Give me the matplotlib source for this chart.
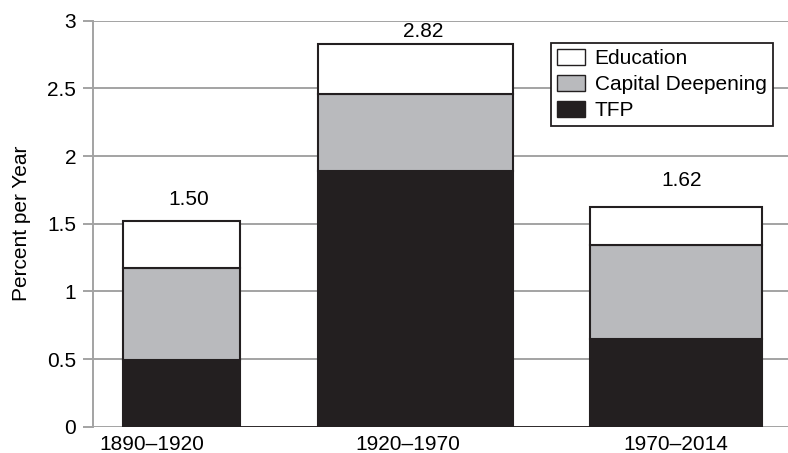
import matplotlib.pyplot as plt
from matplotlib.patches import Patch
from matplotlib.transforms import ScaledTranslation

plt.rcParams['font.family'] = ['Liberation Sans', 'DejaVu Sans']

# data
periods = ['1890–1920', '1920–1970', '1970–2014']
years = [30, 50, 44]            # bar widths follow period length
tfp = [0.49, 1.89, 0.65]
capital = [0.68, 0.57, 0.69]
education = [0.35, 0.37, 0.28]
totals = ['1.50', '2.82', '1.62']
yticks = [0, 0.5, 1, 1.5, 2, 2.5, 3]

black = '#231f20'
gray = '#b9babd'
gridc = '#a3a3a3'
fs = 15

# bar positions: 20-year gap between periods
gap = 20
lefts = []
x = 0
for w in years:
    lefts.append(x)
    x += w + gap
centers = [l + w / 2 for l, w in zip(lefts, years)]

fig = plt.figure(figsize=(7.88, 4.53), dpi=100)
ax = fig.add_axes([93 / 788, (453 - 426.7) / 453, 695 / 788, 406 / 453])

ax.set_ylim(0, 3)
ax.set_xlim(-7.7, 170.7)
ax.set_yticks(yticks)
ax.set_yticklabels(['%g' % t for t in yticks])
ax.yaxis.grid(True, color=gridc, lw=1.4)
ax.set_axisbelow(True)

for s in ['top', 'right', 'bottom']:
    ax.spines[s].set_visible(False)
ax.spines['left'].set_color(gridc)
ax.spines['left'].set_linewidth(1.4)

bottom2 = [a + b for a, b in zip(tfp, capital)]
ax.bar(lefts, tfp, width=years, align='edge', color=black, edgecolor=black, lw=1.5, zorder=3)
ax.bar(lefts, capital, width=years, bottom=tfp, align='edge', color=gray, edgecolor=black, lw=1.5, zorder=3)
ax.bar(lefts, education, width=years, bottom=bottom2, align='edge', color='white', edgecolor=black, lw=1.5, zorder=3)
ax.hlines(0, lefts[0], lefts[-1] + years[-1], color=black, lw=2, zorder=4)

# total labels above bars
label_y = [1.68, 2.92, 1.82]
label_dx = [2, 2, 1.5]
for c, t, yy, dx in zip(centers, totals, label_y, label_dx):
    ax.text(c + dx, yy, t, ha='center', va='center', fontsize=fs)

ax.set_xticks(centers)
ax.set_xticklabels(periods, fontsize=fs)
ax.tick_params(axis='x', length=0, pad=6)
ax.tick_params(axis='y', length=7, width=1.4, color=gridc, labelsize=fs, pad=5)
lbls = ax.get_xticklabels()
lbls[0].set_transform(lbls[0].get_transform() + ScaledTranslation(-30 / 100, 0, fig.dpi_scale_trans))
lbls[1].set_transform(lbls[1].get_transform() + ScaledTranslation(-7 / 100, 0, fig.dpi_scale_trans))

ax.set_ylabel('Percent per Year', fontsize=fs, labelpad=12)

handles = [Patch(facecolor='white', edgecolor=black, lw=1),
           Patch(facecolor=gray, edgecolor=black, lw=1),
           Patch(facecolor=black, edgecolor=black, lw=1)]
leg = ax.legend(handles, ['Education', 'Capital Deepening', 'TFP'],
                loc='upper right', bbox_to_anchor=(0.978, 0.946), borderaxespad=0,
                fontsize=fs, fancybox=False, framealpha=1, edgecolor=black,
                handlelength=1.35, handleheight=0.8, handletextpad=0.45,
                labelspacing=0.32, borderpad=0.3)
leg.get_frame().set_linewidth(1.3)
leg.set_zorder(5)

fig.savefig('out.png', dpi=100)
